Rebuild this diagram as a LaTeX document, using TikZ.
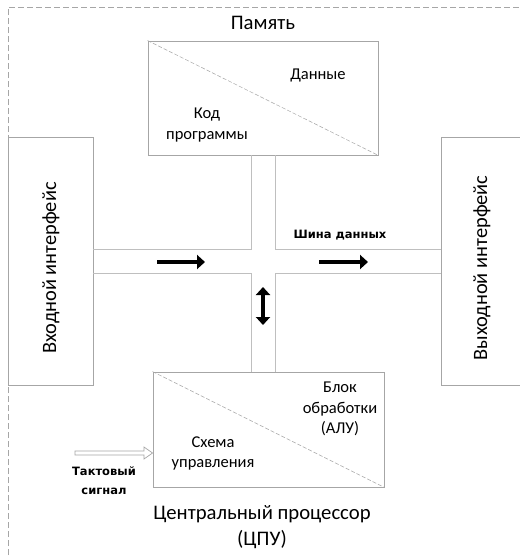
\documentclass[tikz,border=0pt]{standalone}
\usepackage{fontspec}
\setmainfont{Carlito}
\newfontfamily\boldlab{DejaVu Sans}
\usetikzlibrary{arrows.meta}
\definecolor{edge}{HTML}{A6A6A6}
\definecolor{busline}{HTML}{BFBFBF}
\tikzset{
  box/.style={draw=edge, line width=0.9pt, fill=white, inner sep=0pt},
  bigtxt/.style={font=\fontsize{20.7}{26}\selectfont, align=center, inner sep=0pt},
  sidetxt/.style={font=\fontsize{20.4}{24}\selectfont, align=center, inner sep=0pt},
  midtxt/.style={font=\fontsize{16.5}{20.5}\selectfont, align=center, inner sep=0pt},
  boldtxt/.style={font=\boldlab\bfseries\fontsize{11.5}{19}\selectfont, align=center, inner sep=0pt},
  bus/.style={draw=busline, line width=0.9pt},
  diag/.style={draw=edge, line width=0.5pt, dash pattern=on 4pt off 2pt},
  flow/.style={line width=4pt, -{Triangle[length=8pt,width=14pt]}},
  flow2/.style={line width=4pt, {Triangle[length=8pt,width=14pt]}-{Triangle[length=8pt,width=14pt]}},
}
\begin{document}
\begin{tikzpicture}[x=1pt,y=-1pt]
\clip (0,0) rectangle (520,558);
\fill[white] (0,0) rectangle (520,558);
% outer dashed frame
\draw[edge, line width=0.7pt, dash pattern=on 6pt off 3pt] (8,600) -- (8,7) -- (600,7);
\node[bigtxt] (memlbl) at (263,23) {Память};
% boxes
\node[box, minimum width=230pt, minimum height=114pt] (mem) at (263,98) {};
\node[box, minimum width=231pt, minimum height=115pt] (cpu) at (268.5,429.5) {};
\node[box, minimum width=85pt, minimum height=248pt] (inp) at (50.5,261) {};
\node[box, minimum width=85pt, minimum height=248pt] (out) at (483.5,261) {};
% diagonals
\draw[diag] (mem.north west) -- (mem.south east);
\draw[diag] (cpu.north west) -- (cpu.south east);
% bus
\coordinate (b1) at (251,249);
\coordinate (b2) at (275,249);
\coordinate (b3) at (251,273);
\coordinate (b4) at (275,273);
\draw[bus] (mem.south -| b1) -- (b1) -- (b1 -| inp.east);
\draw[bus] (mem.south -| b2) -- (b2) -- (b2 -| out.west);
\draw[bus] (cpu.north -| b3) -- (b3) -- (b3 -| inp.east);
\draw[bus] (cpu.north -| b4) -- (b4) -- (b4 -| out.west);
% texts
\node[midtxt] (dat) at (318,75) {Данные};
\node[midtxt] (kod) at (207,125) {Код\\программы};
\node[midtxt] (alu) at (340,409) {Блок\\обработки\\(АЛУ)};
\node[midtxt] (upr) at (213,453.5) {Схема\\управления};
\node[sidetxt, rotate=90] (inlbl) at (51,268) {Входной интерфейс};
\node[sidetxt, rotate=90] (outlbl) at (482,268) {Выходной интерфейс};
\node[boldtxt] (bus) at (340,235) {Шина данных};
\node[boldtxt] (clk) at (104,480.5) {Тактовый\\сигнал};
\node[bigtxt] (cpulbl) at (262,527) {Центральный процессор\\(ЦПУ)};
% arrows
\coordinate (a1s) at (157,262);
\coordinate (a1e) at (205,262);
\coordinate (a2s) at (319,262);
\coordinate (a2e) at (368,262);
\coordinate (a3s) at (263,287);
\coordinate (a3e) at (263,325);
\draw[flow] (a1s) -- (a1e);
\draw[flow] (a2s) -- (a2e);
\draw[flow2] (a3s) -- (a3e);
% clock hollow arrow
\coordinate (c0) at (75,453);
\draw[edge, line width=0.7pt, fill=white] (c0) ++(0,-2) -- (144,451) -- (144,447) -- (cpu.west |- 0,453) -- (144,459) -- (144,455) -- (75,455) -- cycle;
\end{tikzpicture}
\end{document}
